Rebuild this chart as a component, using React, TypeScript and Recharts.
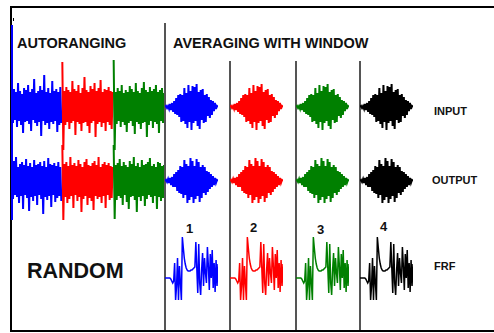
import { Line, LineChart, XAxis, YAxis } from "recharts";

// noise records, sampled one per column (signed amplitude)
const blueIn = [14, -16, 18, -13, 15, -20, 24, -14, 16, -18, 13, -26, 19, -15, 17, -14, 22, -17, 15, -24, 18, -13, 28, -16, 14, -19, 16, -15, 21, -29, 17, -14, 32, -18, 15, -16, 19, -22, 14, -15, 26, -17, 16, -14, 18, -25, 15, -18, 20, -16];
const redIn = [45, -43, 16, -18, 20, -15, 17, -22, 15, -16, 26, -14, 18, -28, 16, -15, 22, -17, 14, -24, 19, -16, 30, -15, 17, -19, 15, -26, 21, -16, 18, -14, 24, -30, 16, -17, 19, -15, 27, -20, 15, -16, 18, -24, 17, -15, 20, -18, 16, -22, 15];
const greenIn = [47, -43, 15, -17, 19, -14, 16, -20, 22, -15, 14, -18, 17, -25, 15, -16, 21, -14, 18, -19, 15, -27, 24, -15, 16, -17, 14, -22, 19, -16, 25, -15, 17, -30, 15, -18, 20, -14, 16, -21, 18, -15, 22, -17, 15, -26, 17, -14, 19, -16, 14];
const blueOut = [15, -18, 20, -14, 24, -16, 14, -22, 17, -15, 19, -28, 16, -14, 22, -17, 15, -30, 18, -16, 14, -20, 21, -15, 16, -24, 17, -14, 19, -18, 15, -33, 20, -16, 14, -19, 23, -15, 17, -26, 16, -14, 18, -21, 15, -17, 19, -15, 14, -20];
const redOut = [36, -39, 17, -16, 19, -22, 15, -18, 24, -15, 16, -27, 18, -14, 15, -20, 21, -16, 17, -31, 14, -18, 19, -15, 22, -24, 16, -17, 15, -20, 18, -29, 20, -15, 16, -18, 24, -16, 14, -22, 17, -15, 19, -27, 16, -14, 18, -19, 15, -17, 14];
const greenOut = [36, -38, 16, -19, 18, -15, 22, -17, 15, -24, 19, -14, 16, -21, 14, -28, 20, -16, 17, -15, 24, -19, 15, -31, 18, -16, 14, -20, 21, -15, 16, -25, 17, -18, 19, -14, 23, -16, 15, -22, 17, -15, 14, -28, 19, -16, 18, -20, 15, -17, 16];

// windowed records (same window for every average)
const burstIn = [0, 1, -1, 1, -2, 3, -3, 4, -5, 6, -7, 9, -8, 12, -10, 13, -15, 12, -14, 19, -17, 14, -21, 22, -15, 16, -23, 21, -16, 20, -14, 23, -19, 15, -22, 17, -13, 18, -16, 12, -15, 13, -9, 10, -11, 7, -8, 6, -4, 4, -2, 1, 0];
const burstOut = [0, 1, -1, 2, -2, 3, -4, 4, -6, 7, -6, 9, -10, 11, -12, 15, -13, 14, -17, 21, -14, 17, -22, 15, -19, 23, -16, 20, -22, 15, -18, 22, -15, 19, -21, 14, -17, 16, -12, 14, -14, 10, -11, 9, -8, 7, -6, 5, -4, 3, -2, 1, 0];

// FRF magnitude per average
const frf = [0, 0, 0, 0, 0, 0, -1, -3, -5, -3, 15, -22, -8, 20, -22, 12, -5, -22, 41, 30, 20, 14, 10, 8, 7, 7, 7, 8, 8, 9, 10, 11, 36, 10, -15, 34, -5, -17, 8, 25, -8, 20, 5, -5, 31, 12, -12, 24, 0, 28, -10, 15, -14, 18, -8, 14];

const averages = ["1", "2", "3", "4"];
const avgColors = ["#0000ff", "#ff0000", "#008000", "#000000"];
const avgLeft = [164, 229, 295, 359];
const numberLeft = [186, 250, 317, 380];
const numberBase = [233, 232, 234, 231];

const FONT = "'Liberation Sans', Arial, sans-serif";

const toPts = (arr: number[], start = 0) => arr.map((v, k) => ({ i: start + k, v }));

function Trace({ left, top, width, height, domain, series, xMax, strokeWidth = 2 }: {
  left: number; top: number; width: number; height: number; domain: [number, number];
  series: { data: { i: number; v: number }[]; color: string }[]; xMax: number; strokeWidth?: number;
}) {
  return (
    <div style={{ position: "absolute", left, top }}>
      <LineChart width={width} height={height} margin={{ top: 0, right: 0, bottom: 0, left: 0 }}>
        <XAxis type="number" dataKey="i" domain={[0, xMax]} hide />
        <YAxis type="number" domain={domain} hide />
        {series.map((s, k) => (
          <Line key={k} data={s.data} dataKey="v" stroke={s.color} strokeWidth={strokeWidth}
            dot={false} isAnimationActive={false} type="linear" />
        ))}
      </LineChart>
    </div>
  );
}

function Label({ text, x, base, size }: { text: string; x: number; base: number; size: number }) {
  return (
    <div style={{ position: "absolute", left: x, top: base - 0.8465 * size, fontFamily: FONT, fontWeight: 700, fontSize: size, lineHeight: `${size}px`, whiteSpace: "nowrap", color: "#111" }}>
      {text}
    </div>
  );
}

const vline = (x: number, y1: number, y2: number, color = "#555", w = 2) => (
  <div style={{ position: "absolute", left: x, top: y1, width: w, height: y2 - y1, background: color }} />
);

export default function App() {
  const nb = blueIn.length;
  const nr = redIn.length;
  const noiseMax = nb + nr + greenIn.length - 1;
  return (
    <div style={{ position: "absolute", left: 0, top: 0, width: 494, height: 333, overflow: "hidden", background: "#fff" }}>
      <div style={{ position: "absolute", left: 10, top: 6, width: 500, height: 326, border: "2px solid #000", boxSizing: "border-box" }} />
      {vline(11, 25, 220, "#0000ff", 2)}
      {vline(13, 18, 21, "#000", 1)}
      {vline(164, 23, 330)}
      {vline(229, 61, 330)}
      {vline(295, 61, 330)}
      {vline(359, 61, 330)}

      <Label text="AUTORANGING" x={17} base={48} size={14.5} />
      <Label text="AVERAGING WITH WINDOW" x={173} base={48} size={14.5} />
      <Label text="RANDOM" x={27} base={279} size={21.5} />
      <Label text="INPUT" x={434} base={115} size={11} />
      <Label text="OUTPUT" x={432} base={184} size={11} />
      <Label text="FRF" x={434} base={270} size={11} />

      <Trace left={12} top={55} width={152} height={95} domain={[-43, 52]} xMax={noiseMax}
        series={[
          { data: toPts(blueIn), color: "#0000ff" },
          { data: toPts(redIn, nb), color: "#ff0000" },
          { data: toPts(greenIn, nb + nr), color: "#008000" },
        ]} />
      <Trace left={12} top={145} width={152} height={80} domain={[-44, 36]} xMax={noiseMax}
        series={[
          { data: toPts(blueOut), color: "#0000ff" },
          { data: toPts(redOut, nb), color: "#ff0000" },
          { data: toPts(greenOut, nb + nr), color: "#008000" },
        ]} />

      {averages.map((a, k) => (
        <div key={a}>
          <Trace left={avgLeft[k] + 1} top={80} width={53} height={55} domain={[-28, 27]} xMax={burstIn.length - 1}
            series={[{ data: toPts(burstIn), color: avgColors[k] }]} />
          <Trace left={avgLeft[k] + 1} top={154} width={53} height={55} domain={[-28, 27]} xMax={burstOut.length - 1}
            series={[{ data: toPts(burstOut), color: avgColors[k] }]} />
          <Trace left={avgLeft[k] + 1} top={232} width={53} height={70} domain={[-24, 46]} xMax={frf.length - 1}
            strokeWidth={1.5} series={[{ data: toPts(frf), color: avgColors[k] }]} />
          <Label text={a} x={numberLeft[k]} base={numberBase[k]} size={13} />
        </div>
      ))}
    </div>
  );
}
